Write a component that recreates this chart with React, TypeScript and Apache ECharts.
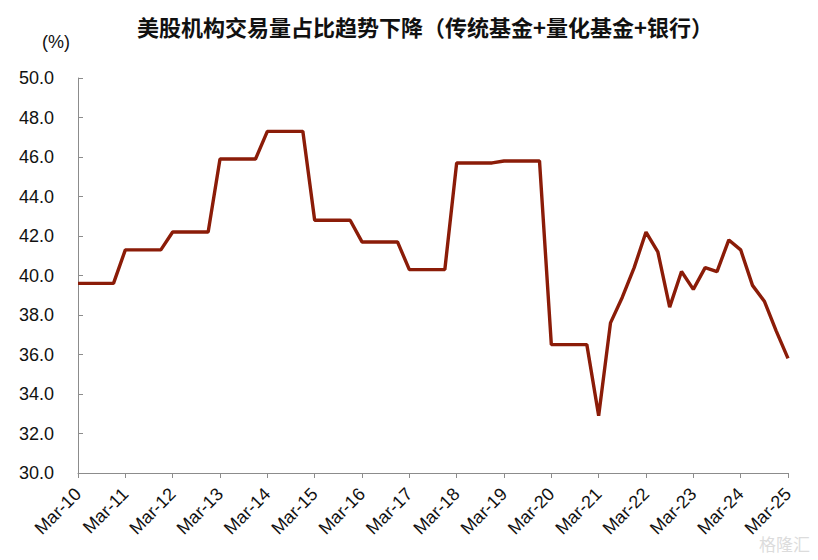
import React, { useEffect, useRef } from "react";
import * as echarts from "echarts";

const titleText = "美股机构交易量占比趋势下降（传统基金+量化基金+银行）";
const unitText = "(%)";
const years = ["10", "11", "12", "13", "14", "15", "16", "17", "18", "19", "20", "21", "22", "23", "24", "25"];
const months = ["Mar", "Jun", "Sep", "Dec"];
const quarters: string[] = [];
years.forEach((y, i) => {
  months.forEach((m, j) => {
    if (i === years.length - 1 && j > 0) return;
    quarters.push(`${m}-${y}`);
  });
});

const shareValues = [
  39.6, 39.6, 39.6, 39.6,
  41.3, 41.3, 41.3, 41.3,
  42.2, 42.2, 42.2, 42.2,
  45.9, 45.9, 45.9, 45.9,
  47.3, 47.3, 47.3, 47.3,
  42.8, 42.8, 42.8, 42.8,
  41.7, 41.7, 41.7, 41.7,
  40.3, 40.3, 40.3, 40.3,
  45.7, 45.7, 45.7, 45.7,
  45.8, 45.8, 45.8, 45.8,
  36.5, 36.5, 36.5, 36.5,
  32.9, 37.6, 38.9, 40.4,
  42.2, 41.2, 38.4, 40.2,
  39.3, 40.4, 40.2, 41.8,
  41.3, 39.5, 38.7, 37.2,
  35.8,
];

const yMin = 30;
const yMax = 50;
const yStep = 2;

export default function App() {
  const ref = useRef<HTMLDivElement>(null);
  useEffect(() => {
    if (!ref.current) return;
    const chart = echarts.init(ref.current, null, { renderer: "svg" });
    const font = "'Liberation Sans', Arial, sans-serif";
    chart.setOption({
      animation: false,
      backgroundColor: "#ffffff",
      title: {
        text: titleText,
        left: 137,
        top: 15,
        padding: 0,
        textStyle: {
          fontFamily: "'Noto Sans CJK SC', sans-serif",
          fontSize: 22,
          fontWeight: "bold",
          color: "#111111",
        },
      },
      graphic: [
        {
          type: "text",
          left: 42,
          top: 33,
          style: { text: unitText, fontFamily: font, fontSize: 18, fill: "#111111" },
        },
        {
          type: "text",
          right: 8,
          bottom: 8,
          style: { text: "格隆汇", fontFamily: "'Noto Sans CJK SC', sans-serif", fontSize: 17, fill: "#dcdcdc" },
        },
      ],
      grid: { left: 78, right: 30, top: 78, bottom: 87, containLabel: false },
      xAxis: {
        type: "category",
        data: quarters,
        boundaryGap: false,
        axisLine: { lineStyle: { color: "#8c8c8c", width: 1 } },
        axisTick: { interval: 3, length: 5, lineStyle: { color: "#8c8c8c" } },
        axisLabel: {
          interval: 3,
          rotate: 45,
          margin: 18,
          fontFamily: font,
          fontSize: 18,
          color: "#111111",
        },
        splitLine: { show: false },
      },
      yAxis: {
        type: "value",
        min: yMin,
        max: yMax,
        interval: yStep,
        axisLine: { show: true, lineStyle: { color: "#8c8c8c", width: 1 } },
        axisTick: { show: true, inside: true, length: 5, lineStyle: { color: "#8c8c8c" } },
        axisLabel: {
          margin: 24,
          fontFamily: font,
          fontSize: 18,
          color: "#111111",
          formatter: (v: number) => v.toFixed(1),
        },
        splitLine: { show: false },
      },
      series: [
        {
          type: "line",
          data: shareValues,
          symbol: "none",
          lineStyle: { color: "#8b1c08", width: 3.4 },
        },
      ],
    });
    return () => chart.dispose();
  }, []);
  return (
    <div
      ref={ref}
      style={{ position: "fixed", left: 0, top: 0, width: 818, height: 560 }}
    />
  );
}
